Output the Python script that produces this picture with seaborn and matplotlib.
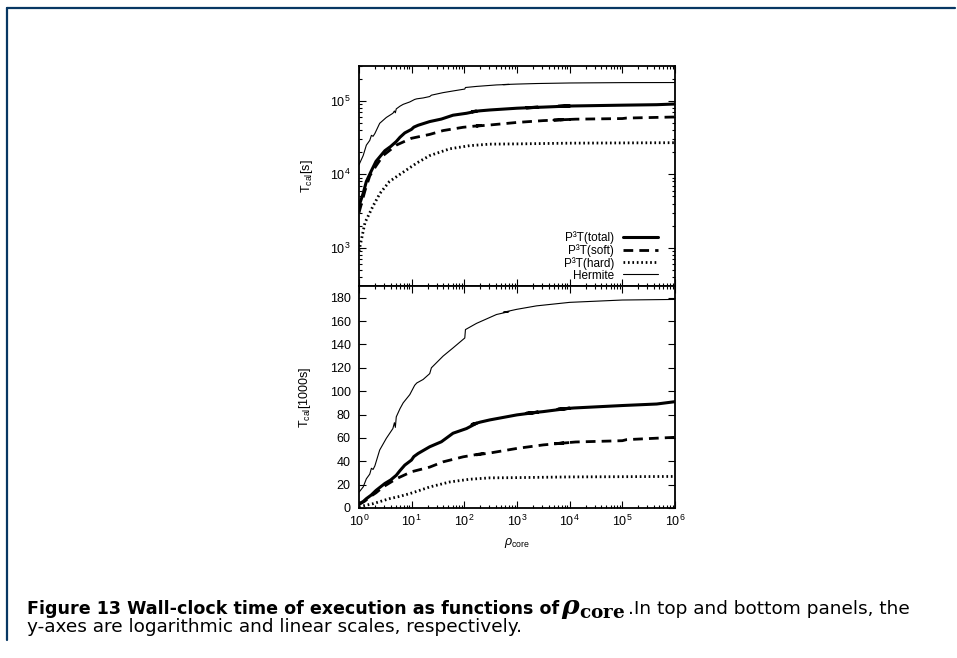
import numpy as np
import pandas as pd
import seaborn as sns
import matplotlib
matplotlib.use('Agg')
import matplotlib.pyplot as plt
from matplotlib.lines import Line2D
from matplotlib.ticker import LogLocator, MultipleLocator, NullFormatter

# values, rho_core vs wall-clock time in 1000 s
# (the small back-steps are the hooks visible on the original curves)
herm_x = [1, 1.2, 1.38, 1.6, 1.72, 1.85, 2.0, 2.47, 3.3, 4.4, 4.7, 4.9, 5.1, 6.0, 6.9, 9.2, 11.4,
          12.5, 16.5, 22, 23.7, 39.5, 61, 102, 105, 170, 408, 700, 550, 980, 2350, 1e4, 1e5, 1e6]
herm_y = [13.5, 18, 25, 29, 34, 33, 36, 49.6, 59.6, 68, 73, 69, 78, 85, 90, 97, 105,
          107, 110, 115, 120, 130, 137, 145.5, 152.7, 158, 165.6, 168, 167.5, 170, 173, 176, 178, 178.5]

total_x = [1, 1.2, 1.38, 1.7, 2.1, 3.1, 4, 5.1, 6, 7.4, 9.9, 11, 13.3, 22, 36.7, 61, 110, 170,
           140, 200, 305, 1000, 2500, 1500, 3150, 1e4, 6000, 1.2e4, 1e5, 4.5e5, 1e6]
total_y = [3.7, 5.5, 8, 11, 15, 21, 24, 28, 32, 36.7, 41, 44, 46.7, 52.4, 56.7, 64, 68, 72.5,
           71.5, 73.5, 75.4, 79.7, 82, 81, 82.5, 85.4, 84.5, 85.6, 87.7, 89, 91]

soft_x = [1, 1.3, 1.6, 2.1, 2.86, 5.1, 9.9, 22, 39.5, 95, 227, 170, 300, 1000, 3150, 1e4, 5000,
          1.3e4, 1e5, 1.2e5, 1e6]
soft_y = [3, 6, 9.5, 13, 18, 25, 31, 35, 39.5, 43.8, 46.7, 45.5, 47, 51, 54, 56, 55, 56.5,
          57.6, 58.5, 60.5]

hard_x = [1, 1.3, 1.85, 2.5, 3.8, 6, 9.2, 13, 22, 53, 126, 305, 1000, 1e4, 1e6]
hard_y = [0.9, 2.2, 3.7, 5.5, 8, 10, 12.3, 14.5, 18, 22.3, 24.6, 25.8, 26, 26.6, 27]

labels = ['P\u00b3T(total)', 'P\u00b3T(soft)', 'P\u00b3T(hard)', 'Hermite']

sns.set_style('ticks')
plt.rcParams['font.family'] = ['Liberation Sans', 'DejaVu Sans']
plt.rcParams['text.color'] = 'k'
plt.rcParams['axes.labelcolor'] = 'k'
plt.rcParams['mathtext.fontset'] = 'custom'
plt.rcParams['mathtext.rm'] = 'Liberation Sans'
plt.rcParams['mathtext.it'] = 'Liberation Sans:italic'
plt.rcParams['mathtext.bf'] = 'DejaVu Serif:bold'
plt.rcParams['mathtext.bfit'] = 'DejaVu Serif:italic:bold'

# series table
frames = []
for name, xs, ys in [(labels[0], total_x, total_y), (labels[1], soft_x, soft_y),
                     (labels[2], hard_x, hard_y), (labels[3], herm_x, herm_y)]:
    frames.append(pd.DataFrame({'rho': xs, 'tcal': ys, 'series': name}))
df = pd.concat(frames, ignore_index=True)
df['tsec'] = df['tcal'] * 1000

styles = {
    labels[0]: dict(linewidth=2.2, linestyle='-'),
    labels[1]: dict(linewidth=2.0, linestyle=(0, (3.5, 2.2))),
    labels[2]: dict(linewidth=2.0, linestyle=(0, (0.6, 1.0))),
    labels[3]: dict(linewidth=0.8, linestyle='-'),
}

W, H = 957, 658
fig = plt.figure(figsize=(W / 100, H / 100), dpi=100)
L, R = 359 / W, 675 / W
ax1 = fig.add_axes([L, 1 - 286 / H, R - L, 220 / H])
ax2 = fig.add_axes([L, 1 - 508 / H, R - L, 222 / H], sharex=ax1)

for name in labels:
    sub = df[df['series'] == name]
    sns.lineplot(data=sub, x='rho', y='tsec', ax=ax1, color='k', label=name,
                 sort=False, estimator=None, **styles[name])
    sns.lineplot(data=sub, x='rho', y='tcal', ax=ax2, color='k', legend=False,
                 sort=False, estimator=None, **styles[name])

ax1.set_xscale('log')
ax1.set_yscale('log')
ax1.set_xlim(1, 1e6)
ax1.set_ylim(300, 3e5)
ax2.set_ylim(0, 190)

ax1.xaxis.set_major_locator(LogLocator(base=10, numticks=10))
ax1.xaxis.set_minor_locator(LogLocator(base=10, subs=np.arange(2, 10), numticks=20))
ax1.xaxis.set_minor_formatter(NullFormatter())
ax1.yaxis.set_major_locator(LogLocator(base=10, numticks=10))
ax1.yaxis.set_minor_locator(LogLocator(base=10, subs=np.arange(2, 10), numticks=20))
ax1.yaxis.set_minor_formatter(NullFormatter())
ax2.yaxis.set_major_locator(MultipleLocator(20))

for ax in (ax1, ax2):
    ax.tick_params(which='both', direction='in', top=True, right=True, labelsize=9,
                   colors='k', width=0.8)
    ax.tick_params(which='major', length=5)
    ax.tick_params(which='minor', length=2.5)
    ax.tick_params(axis='y', pad=6)
    ax.tick_params(axis='x', pad=4)
    for sp in ax.spines.values():
        sp.set_linewidth(1.3)
        sp.set_color('k')
ax1.tick_params(axis='x', labelbottom=False)

ax1.set_xlabel('')
ax1.set_ylabel('T$_{\\rm cal}$[s]', fontsize=9, labelpad=11)
ax2.set_ylabel('T$_{\\rm cal}$[1000s]', fontsize=9, labelpad=12)
ax2.set_xlabel('$\\rho_{\\rm core}$', fontsize=9, labelpad=5)

leg = ax1.legend(loc='lower right', bbox_to_anchor=(1 - 17 / 316, 0.02), frameon=False,
                 fontsize=8.5, markerfirst=False, handlelength=3.0, handletextpad=0.7,
                 handleheight=0.7, labelspacing=0.0, borderpad=0, borderaxespad=0)
# right-justify the legend texts like gnuplot does
leg._legend_box.get_children()[1].get_children()[0].align = 'right'

# page frame (top and left rules)
blue = '#073763'
fig.add_artist(Line2D([7.5 / W, 955 / W], [1 - 7.5 / H, 1 - 7.5 / H], color=blue, lw=1.6))
fig.add_artist(Line2D([7.5 / W, 7.5 / W], [1 - 7.5 / H, 1 - 640 / H], color=blue, lw=1.6))

# caption, fitted to the measured widths
fig.canvas.draw()
rend = fig.canvas.get_renderer()
cap_font = ['DejaVu Sans']


def fit_text(x0, x1, ybase, s, **kw):
    t = fig.text(x0 / W, 1 - ybase / H, s, fontsize=10, va='baseline', color='k', **kw)
    w = t.get_window_extent(rend).width
    t.set_fontsize(10 * (x1 - x0) / w)
    return t


fit_text(27, 557, 614, 'Figure 13 Wall-clock time of execution as functions of',
         fontweight='bold', family=cap_font)
line2 = fit_text(27, 523, 632, 'y-axes are logarithmic and linear scales, respectively.',
                 family=cap_font)
rest = fig.text(910 / W, 1 - 614 / H, '.In top and bottom panels, the', family=cap_font,
                fontsize=line2.get_fontsize(), ha='right', va='baseline', color='k')
x_start = rest.get_window_extent(rend).x0 - 1
fit_text(561, x_start, 614, '$\\mathbfit{\\rho}_{\\mathbf{core}}$')

fig.savefig('out.png', dpi=100)
